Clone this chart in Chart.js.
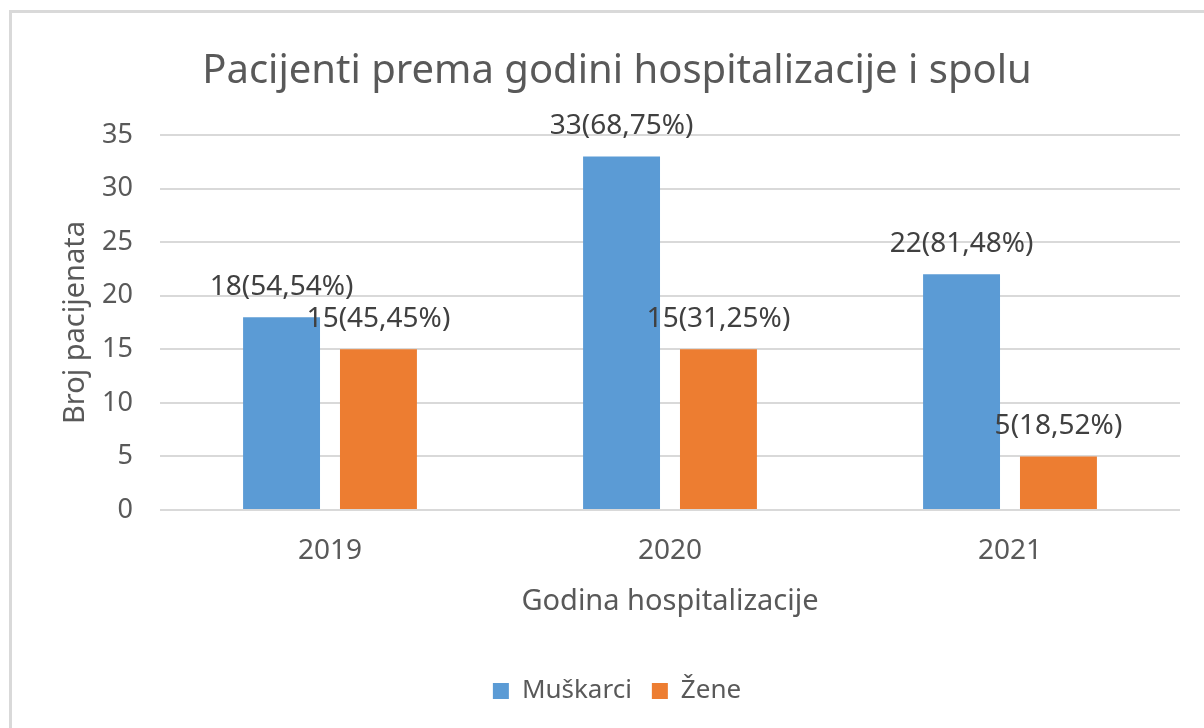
<!DOCTYPE html>
<html>
<head>
<meta charset="utf-8">
<script src="https://cdn.jsdelivr.net/npm/chart.js@4/dist/chart.umd.min.js"></script>
<style>
    body { margin: 0; background: #ffffff; }
    #wrap { width: 1204px; height: 728px; }
</style>
</head>
<body>
<div id="wrap"><canvas id="chart1"></canvas></div>
<script>
// podaci
var years = ['2019', '2020', '2021'];
var muskarci = [18, 33, 22];
var zene = [15, 15, 5];
var muskarciPct = ['54,54%', '68,75%', '81,48%'];
var zenePct = ['45,45%', '31,25%', '18,52%'];
var yTicks = [0, 5, 10, 15, 20, 25, 30, 35];

var fontName = "'Noto Sans', 'Open Sans', sans-serif";
var textColor = '#595959';

// okvir oko grafikona
var borderPlugin = {
    id: 'okvir',
    beforeDraw: function (chart) {
        var ctx = chart.ctx;
        ctx.save();
        ctx.fillStyle = '#ffffff';
        ctx.fillRect(0, 0, chart.width, chart.height);
        ctx.strokeStyle = '#d9d9d9';
        ctx.lineWidth = 3;
        ctx.strokeRect(10.5, 11.5, chart.width + 20, chart.height + 20);
        ctx.restore();
    }
};

// oznake iznad stupaca: broj(postotak)
var labelPlugin = {
    id: 'oznake',
    afterDatasetsDraw: function (chart) {
        var ctx = chart.ctx;
        var pct = [muskarciPct, zenePct];
        ctx.save();
        ctx.font = '28px ' + fontName;
        ctx.fillStyle = '#404040';
        ctx.textAlign = 'center';
        ctx.textBaseline = 'middle';
        chart.data.datasets.forEach(function (ds, i) {
            var meta = chart.getDatasetMeta(i);
            meta.data.forEach(function (bar, j) {
                ctx.fillText(ds.data[j] + '(' + pct[i][j] + ')', bar.x, bar.y - 30);
            });
        });
        ctx.restore();
    }
};

const ctx1 = document.getElementById('chart1');
var data1 = {
    labels: years,
    datasets: [{
        label: 'Muškarci',
        data: muskarci,
        backgroundColor: '#5b9bd5'
    }, {
        label: 'Žene',
        data: zene,
        backgroundColor: '#ed7d31'
    }]
};

var myChart = new Chart(ctx1, {
    type: 'bar',
    data: data1,
    plugins: [borderPlugin, labelPlugin],
    options: {
        responsive: true,
        maintainAspectRatio: false,
        animation: false,
        categoryPercentage: 0.57,
        barPercentage: 0.794,
        layout: {
            padding: { left: 54, right: 24, top: 12, bottom: 14 }
        },
        plugins: {
            title: {
                display: true,
                text: 'Pacijenti prema godini hospitalizacije i spolu',
                color: textColor,
                font: { family: fontName, size: 40, weight: 'normal' },
                padding: { top: 36, bottom: 39 }
            },
            legend: {
                display: true,
                position: 'bottom',
                labels: {
                    color: textColor,
                    font: { family: fontName, size: 26 },
                    boxWidth: 16,
                    boxHeight: 16,
                    padding: 20
                }
            },
            tooltip: { enabled: false }
        },
        scales: {
            x: {
                grid: { display: false },
                border: { display: false },
                afterFit: function (axis) { axis.height = 148; },
                ticks: {
                    color: textColor,
                    font: { family: fontName, size: 28 },
                    padding: 16
                },
                title: {
                    display: true,
                    text: 'Godina hospitalizacije',
                    color: textColor,
                    font: { family: fontName, size: 29 },
                    padding: { top: 4, bottom: 39 }
                }
            },
            y: {
                min: 0,
                max: 35,
                afterBuildTicks: function (axis) {
                    axis.ticks = yTicks.map(function (v) { return { value: v }; });
                },
                afterFit: function (axis) { axis.width = 106; },
                grid: { color: '#d9d9d9', lineWidth: 2, drawTicks: false },
                border: { display: false },
                ticks: {
                    color: textColor,
                    font: { family: fontName, size: 27 },
                    padding: 27
                },
                title: {
                    display: true,
                    text: 'Broj pacijenata',
                    color: textColor,
                    font: { family: fontName, size: 29 },
                    padding: { top: 4, bottom: 4 }
                }
            }
        }
    }
});
</script>
</body>
</html>
